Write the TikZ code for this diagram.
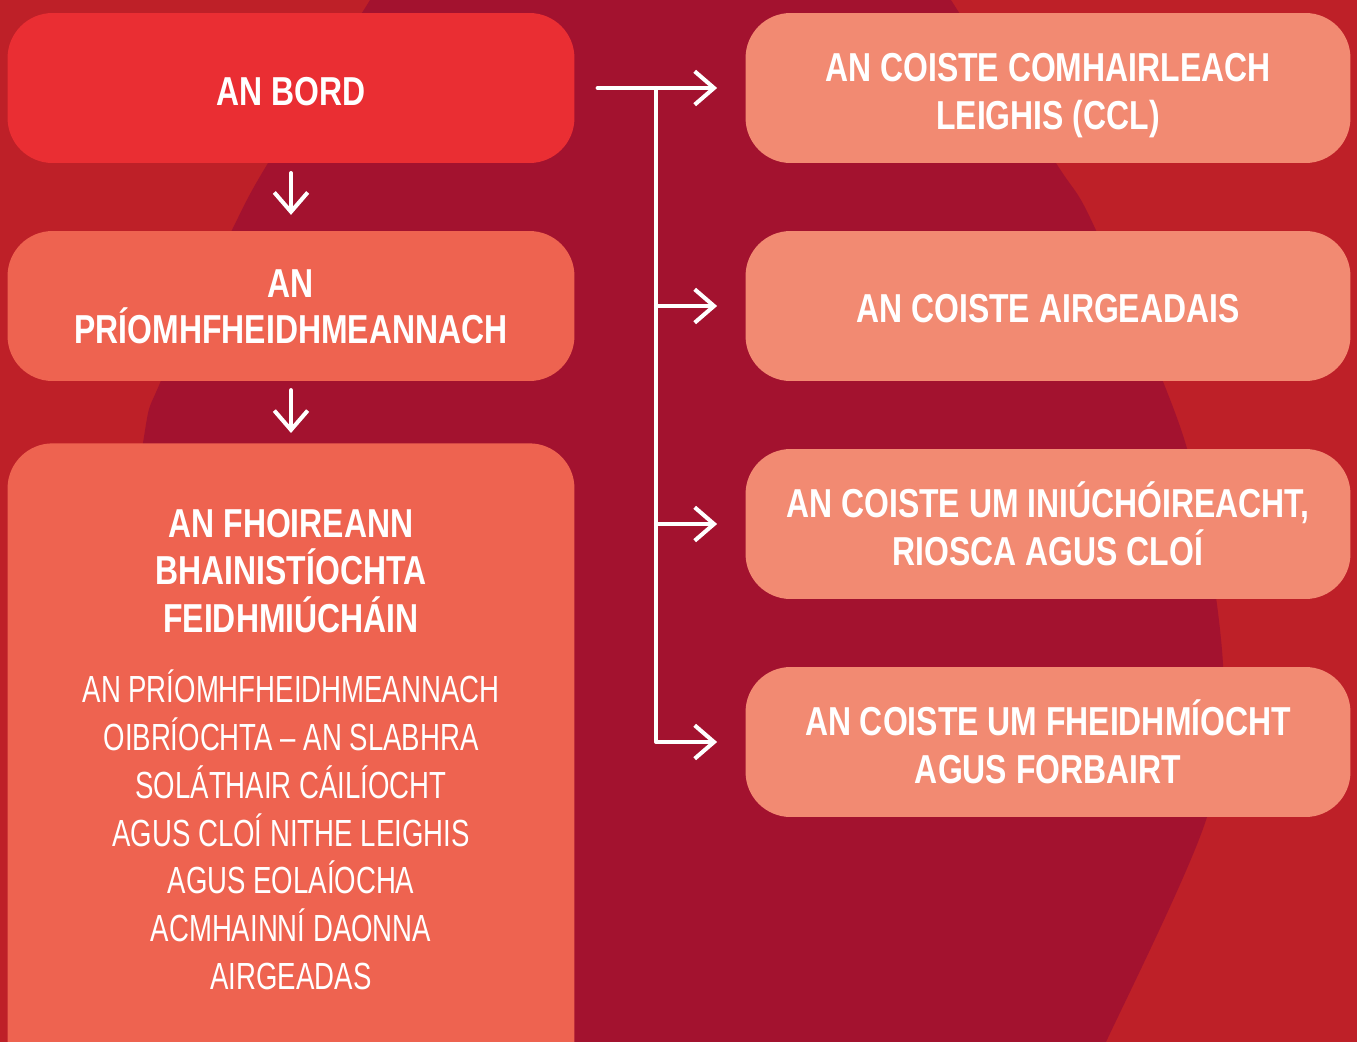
\documentclass[tikz,border=0pt]{standalone}
\usepackage{fontspec}
\usetikzlibrary{arrows.meta}
\newfontfamily\headfont{Liberation Sans}[FakeStretch=0.79]
\newfontfamily\listfont{Liberation Sans}[FakeStretch=0.73]
\definecolor{bgred}{HTML}{BE2028}
\definecolor{blobred}{HTML}{A3122F}
\definecolor{bordred}{HTML}{EA2E33}
\definecolor{leftsalmon}{HTML}{EE6350}
\definecolor{rightsalmon}{HTML}{F28A72}
\tikzset{
  box/.style={rounded corners=0.9cm, text=white, align=center, inner sep=0pt,
    font=\headfont\bfseries\fontsize{23}{27.2}\selectfont},
  bordbox/.style={box, fill=bordred, minimum width=11.34cm, minimum height=3cm},
  leftbox/.style={box, fill=leftsalmon, minimum width=11.34cm, minimum height=3cm},
  rightbox/.style={box, fill=rightsalmon, minimum width=12.1cm, minimum height=3cm},
  link/.style={draw=white, line width=2.3pt, line cap=round, line join=round,
    -{Straight Barb[length=11pt,width=19pt,line width=2.3pt]}}
}
\begin{document}
\begin{tikzpicture}[x=0.02cm,y=-0.02cm]
\useasboundingbox (0,0) rectangle (1357,1042);
\fill[bgred] (0,0) rectangle (1357,1042);
% backdrop shape
\fill[blobred] plot [smooth] coordinates {(380,-20) (370,0) (268,163) (232,230) (160,383) (143,443) (110,700) (90,1070)}
  -- plot [smooth] coordinates {(1090,1070) (1106,1042) (1207,817) (1223,664) (1186,445) (1094,226) (1056,163) (951,0) (940,-20)} -- cycle;

\node[bordbox] (bord) at (291,88) {\raisebox{-2.2pt}[\height][\depth]{AN BORD}};
\node[leftbox] (ceo) at (291,306) {\raisebox{-1pt}[\height][\depth]{AN}\\PRÍOMHFHEIDHMEANNACH};
\node[leftbox, minimum height=13cm, anchor=north] (team) at (291,443) {};
\node[box] (teamtitle) at (291,571) {AN FHOIREANN\\BHAINISTÍOCHTA\\FEIDHMIÚCHÁIN};
\node[box, font=\listfont\fontsize{21.5}{27.2}\selectfont] (teamlist) at (291,830)
  {AN PRÍOMHFHEIDHMEANNACH\\OIBRÍOCHTA – AN SLABHRA\\SOLÁTHAIR CÁILÍOCHT\\AGUS CLOÍ NITHE LEIGHIS\\AGUS EOLAÍOCHA\\ACMHAINNÍ DAONNA\\AIRGEADAS};

\node[rightbox] (ccl) at (1048,88) {};
\node[box, yshift=-4.5pt] (ccltext) at (ccl) {AN COISTE COMHAIRLEACH\\LEIGHIS (CCL)};
\node[rightbox] (fin) at (1048,306) {\raisebox{-1.2pt}[\height][\depth]{AN COISTE AIRGEADAIS}};
\node[rightbox] (audit) at (1048,524) {AN COISTE UM INIÚCHÓIREACHT,\\RIOSCA AGUS CLOÍ};
\node[rightbox] (perf) at (1048,742) {AN COISTE UM FHEIDHMÍOCHT\\AGUS FORBAIRT};

\draw[link, shorten <=5.5pt, shorten >=9pt] (bord) -- (ceo);
\draw[link, shorten <=5pt, shorten >=5.7pt] (ceo) -- (team);

\coordinate (fork) at (656,88);
\draw[link, shorten <=13pt, shorten >=16pt] (bord.east) -- (ccl.west);
\draw[link, shorten >=16pt] (fork) |- (perf.west);
\draw[link, shorten >=16pt] (fork |- fin.west) -- (fin.west);
\draw[link, shorten >=16pt] (fork |- audit.west) -- (audit.west);
\end{tikzpicture}
\end{document}
